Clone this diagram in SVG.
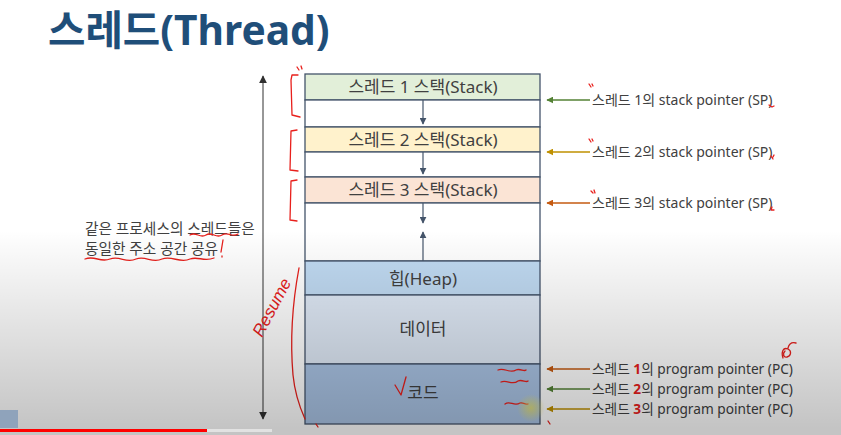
<svg xmlns="http://www.w3.org/2000/svg" width="841" height="435" viewBox="0 0 841 435">
  <style>
    .t { font-family: "Noto Sans", "Noto Sans CJK KR", sans-serif; fill: #404040; }
    .box { font-size: 17px; text-anchor: middle; }
    .sp { font-size: 14px; }
    .pc { font-size: 13.7px; }
    .cell { stroke: #44546a; stroke-width: 1.3; }
    .ink { fill: none; stroke: #e8201c; stroke-width: 1.3; stroke-linecap: round; stroke-linejoin: round; }
  </style>
  <defs>
    <marker id="hd" viewBox="0 0 10 10" refX="9" refY="5" markerWidth="7" markerHeight="7" orient="auto-start-reverse" markerUnits="userSpaceOnUse">
      <path d="M0,0 L10,5 L0,10 z" fill="#44546a"/>
    </marker>
    <marker id="hg" viewBox="0 0 10 10" refX="9" refY="5" markerWidth="8" markerHeight="8" orient="auto-start-reverse" markerUnits="userSpaceOnUse">
      <path d="M0,0 L10,5 L0,10 z" fill="#303030"/>
    </marker>
    <marker id="hGreen" viewBox="0 0 10 10" refX="9" refY="5" markerWidth="7" markerHeight="7" orient="auto" markerUnits="userSpaceOnUse">
      <path d="M0,0 L10,5 L0,10 z" fill="#548235"/>
    </marker>
    <marker id="hYellow" viewBox="0 0 10 10" refX="9" refY="5" markerWidth="7" markerHeight="7" orient="auto" markerUnits="userSpaceOnUse">
      <path d="M0,0 L10,5 L0,10 z" fill="#bf9000"/>
    </marker>
    <marker id="hOrange" viewBox="0 0 10 10" refX="9" refY="5" markerWidth="7" markerHeight="7" orient="auto" markerUnits="userSpaceOnUse">
      <path d="M0,0 L10,5 L0,10 z" fill="#c55a11"/>
    </marker>
    <linearGradient id="shade" x1="0" y1="0" x2="0" y2="1">
      <stop offset="0" stop-color="#000" stop-opacity="0"/>
      <stop offset="1" stop-color="#000" stop-opacity="0.24"/>
    </linearGradient>
    <radialGradient id="glow">
      <stop offset="0" stop-color="#e8e060" stop-opacity="0.75"/>
      <stop offset="1" stop-color="#e8e060" stop-opacity="0"/>
    </radialGradient>
  </defs>

  <rect width="841" height="435" fill="#ffffff"/>

  <!-- title -->
  <text x="48" y="45" font-family="Noto Sans, Noto Sans CJK KR, sans-serif" font-size="40.7" font-weight="700" fill="#1f4e79">스레드(Thread)</text>

  <!-- memory layout column -->
  <g id="stack1">
    <rect class="cell" x="305" y="74" width="235" height="26" fill="#e2efd9"/>
    <text class="t box" x="423" y="93">스레드 1 스택(Stack)</text>
    <rect class="cell" x="305" y="100" width="235" height="27" fill="#ffffff"/>
  </g>
  <g id="stack2">
    <rect class="cell" x="305" y="127" width="235" height="25" fill="#fff2cc"/>
    <text class="t box" x="423" y="145.5">스레드 2 스택(Stack)</text>
    <rect class="cell" x="305" y="152" width="235" height="25" fill="#ffffff"/>
  </g>
  <g id="stack3">
    <rect class="cell" x="305" y="177" width="235" height="26" fill="#fbe4d5"/>
    <text class="t box" x="423" y="196">스레드 3 스택(Stack)</text>
    <rect class="cell" x="305" y="203" width="235" height="58" fill="#ffffff"/>
  </g>
  <g id="heap">
    <rect class="cell" x="305" y="261" width="235" height="34" fill="#c0daf2"/>
    <text class="t box" x="423" y="284.5">힙(Heap)</text>
  </g>
  <g id="data">
    <rect class="cell" x="305" y="295" width="235" height="69" fill="#dfe9f6"/>
    <text class="t box" x="423" y="335">데이터</text>
  </g>
  <g id="code">
    <rect class="cell" x="305" y="364" width="235" height="60" fill="#a9c3e4"/>
    <text class="t box" x="423" y="399">코드</text>
  </g>

  <!-- connectors -->
  <g id="connectors" fill="none">
    <line x1="423" y1="100" x2="423" y2="124" stroke="#44546a" stroke-width="1.2" marker-end="url(#hd)"/>
    <line x1="423" y1="152" x2="423" y2="174" stroke="#44546a" stroke-width="1.2" marker-end="url(#hd)"/>
    <line x1="423" y1="203" x2="423" y2="223" stroke="#44546a" stroke-width="1.2" marker-end="url(#hd)"/>
    <line x1="423" y1="261" x2="423" y2="232" stroke="#44546a" stroke-width="1.2" marker-end="url(#hd)"/>
    <line x1="263" y1="76" x2="263" y2="419" stroke="#303030" stroke-width="1" marker-start="url(#hg)" marker-end="url(#hg)"/>
    <line x1="590" y1="100" x2="547" y2="100" stroke="#548235" stroke-width="1.5" marker-end="url(#hGreen)"/>
    <line x1="590" y1="152" x2="547" y2="152" stroke="#bf9000" stroke-width="1.5" marker-end="url(#hYellow)"/>
    <line x1="590" y1="203" x2="547" y2="203" stroke="#c55a11" stroke-width="1.5" marker-end="url(#hOrange)"/>
    <line x1="590" y1="369" x2="547" y2="369" stroke="#c55a11" stroke-width="1.5" marker-end="url(#hOrange)"/>
    <line x1="590" y1="389" x2="547" y2="389" stroke="#548235" stroke-width="1.5" marker-end="url(#hGreen)"/>
    <line x1="590" y1="409" x2="547" y2="409" stroke="#bf9000" stroke-width="1.5" marker-end="url(#hYellow)"/>
  </g>

  <!-- pointer labels -->
  <g id="sp-labels">
    <text class="t sp" x="592" y="105">스레드 1의 stack pointer (SP)</text>
    <text class="t sp" x="592" y="157">스레드 2의 stack pointer (SP)</text>
    <text class="t sp" x="592" y="208">스레드 3의 stack pointer (SP)</text>
  </g>
  <g id="pc-labels">
    <text class="t pc" x="592" y="374">스레드 <tspan fill="#e8201c" font-weight="700">1</tspan>의 program pointer (PC)</text>
    <text class="t pc" x="592" y="394">스레드 <tspan fill="#e8201c" font-weight="700">2</tspan>의 program pointer (PC)</text>
    <text class="t pc" x="592" y="414">스레드 <tspan fill="#e8201c" font-weight="700">3</tspan>의 program pointer (PC)</text>
  </g>

  <!-- side note -->
  <g id="note">
    <text class="t" x="85" y="234" font-size="14.7">같은 프로세스의 스레드들은</text>
    <text class="t" x="85" y="254" font-size="14.7">동일한 주소 공간 공유</text>
  </g>

  <text class="t" x="420" y="446" font-size="15" text-anchor="middle">프로세스의 메모리 구조</text>

  <!-- pen annotations -->
  <g id="annotations">
    <path class="ink" d="M298,75 L292,75 L291,80 L292,115 L300,117"/>
    <path class="ink" d="M297,130 L291,131 L290,170 L298,171"/>
    <path class="ink" d="M297,180 L291,181 L290,220 L297,221"/>
    <path class="ink" d="M299,268 C293,300 290,340 293,375 C295,395 300,408 305,419"/>
    <path class="ink" d="M190,235 C196,231 200,239 206,235 C212,231 216,239 222,235 C228,231 232,238 238,234"/>
    <path class="ink" d="M85,259 C95,255 100,263 110,259 C120,255 126,264 136,259 C146,255 152,264 162,259 C172,255 180,264 190,259 C198,256 204,262 214,258"/>
    <path class="ink" d="M223,240 L221,252 M222,256 L222,257"/>
    <path class="ink" d="M395,385 L401,395 L406,377" stroke-width="1.8"/>
    <path class="ink" d="M498,370 C504,367 510,374 516,370 C520,368 524,372 526,370"/>
    <path class="ink" d="M501,382 C507,379 512,386 518,381 C522,379 526,383 528,381"/>
    <path class="ink" d="M505,404 C510,400 514,407 520,403 C523,402 526,405 528,404"/>
    <path class="ink" d="M297,67 L299,70 M301,66 L302,69" stroke-width="1"/>
    <path class="ink" d="M589,84 L591,87 M592,84 L593,86" stroke-width="1"/>
    <path class="ink" d="M589,139 L591,142 M592,139 L593,141" stroke-width="1"/>
    <path class="ink" d="M591,191 L593,193 M594,190 L595,193" stroke-width="1"/>
    <path class="ink" d="M769,105 L772,107 L774,106" stroke-width="1"/>
    <path class="ink" d="M771,156 L773,159 M773,157 L774,155" stroke-width="1"/>
    <path class="ink" d="M772,207 L771,210 L774,210" stroke-width="1"/>
    <path class="ink" d="M783,358 C781,352 783,347 788,349 C792,351 791,356 787,357 C784,358 782,354 785,351 M788,348 C789,344 792,342 796,343" stroke-width="1.1"/>
    <path class="ink" d="M548,421 L550,424" stroke-width="1"/>
    <path class="ink" d="M316,424 L318,427" stroke-width="1"/>
    <text x="262" y="338" transform="rotate(-62 262 338)" font-family="Liberation Sans, sans-serif" font-style="italic" font-size="17" fill="#e8201c">Resume</text>
  </g>
  <circle cx="531" cy="408" r="14" fill="url(#glow)"/>

  <!-- screen overlay -->
  <rect x="0" y="230" width="841" height="205" fill="url(#shade)"/>
  <rect x="0" y="410" width="18" height="18" fill="#8fa3bb"/>
  <rect x="0" y="429" width="841" height="6" fill="#c4c4c4"/>
  <rect x="0" y="429" width="272" height="3" fill="#e2e2e2"/>
  <rect x="0" y="429" width="207" height="3" fill="#ff0000"/>
</svg>
